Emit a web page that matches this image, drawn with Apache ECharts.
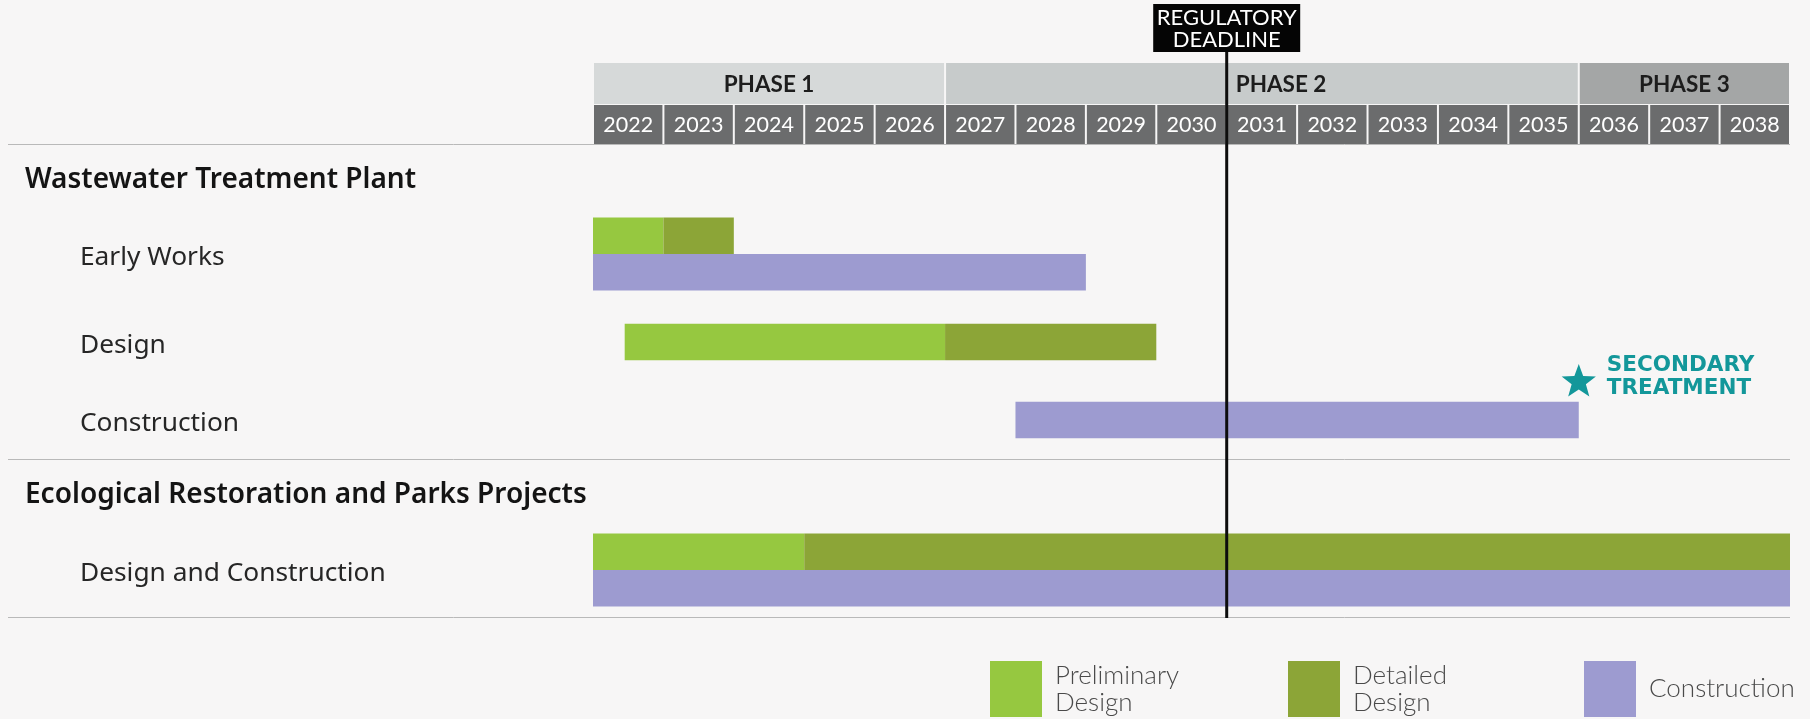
<!DOCTYPE html>
<html><head><meta charset="utf-8">
<script src="https://cdn.jsdelivr.net/npm/echarts@6/dist/echarts.min.js"></script>
<style>html,body{margin:0;padding:0;background:#f7f6f6}#c{width:1810px;height:719px}</style>
</head><body><div id="c"></div><script>
// ---------------- DATA ----------------
const yearLabels = ['2022','2023','2024','2025','2026','2027','2028','2029','2030','2031','2032','2033','2034','2035','2036','2037','2038'];
const phaseNames = ['PHASE 1', 'PHASE 2', 'PHASE 3'];
const phaseStart = [2022, 2027, 2036];
const phaseEnd   = [2027, 2036, 2039];

const rowLabels  = ['Wastewater Treatment Plant', 'Early Works', 'Design', 'Construction',
                    'Ecological Restoration and Parks Projects', 'Design and Construction'];
const rowIsGroup = [true, false, false, false, true, false];

const typeNames  = ['Preliminary Design', 'Detailed Design', 'Construction'];
const legendText = ['Preliminary\nDesign', 'Detailed\nDesign', 'Construction'];

const taskRow   = [1, 1, 1, 2, 2, 3, 5, 5, 5];
const taskType  = ['Preliminary Design', 'Detailed Design', 'Construction',
                   'Preliminary Design', 'Detailed Design', 'Construction',
                   'Preliminary Design', 'Detailed Design', 'Construction'];
const taskStart = [2022, 2023, 2022, 2022.45, 2027, 2028, 2022, 2025, 2022];
const taskEnd   = [2023, 2024, 2029, 2027,    2030, 2036, 2025, 2039, 2039];

const deadlineYear   = 2031;
const deadlineLabel  = 'REGULATORY\nDEADLINE';
const milestoneYear  = 2036;
const milestoneLabel = 'SECONDARY\nTREATMENT';

// ---------------- LAYOUT / STYLE ----------------
const FONT = 'Lato, "Open Sans", sans-serif';
const LABEL_FONT = '"Noto Sans", "Open Sans", sans-serif';
const L = {
  boxTop: 4, boxBottom: 52, boxWidth: 147,
  phaseTop: 63, phaseBottom: 104,
  yearTop: 105, yearBottom: 144,
  rowY: [178, 254, 342, 420, 493, 570],
  rules: [144, 459, 617],
  ruleLeft: 8,
  lineBottom: 618,
  barH: 36.5,
  groupX: 25, taskX: 80,
  groupDy: 2, taskDy: 3.5,
  milestoneY: 380,
  legendX: [990, 1288, 1584], legendTop: 661
};
const typeColor = {'Preliminary Design': '#96c840', 'Detailed Design': '#8ca537', 'Construction': '#9d9bd0'};
const phaseColor = ['#d6d9d9', '#c7cbcb', '#a4a6a6'];
const yearColor = '#6b6c6d';
const teal = '#13979a';

const rowHasDesign = rowLabels.map((_, r) => taskRow.some((tr, i) => tr === r && taskType[i] !== 'Construction'));
const rowHasBuild  = rowLabels.map((_, r) => taskRow.some((tr, i) => tr === r && taskType[i] === 'Construction'));

const chart = echarts.init(document.getElementById('c'), null, {renderer: 'canvas'});

function yPix(api, v) { return api.coord([2022, v])[1]; }

const PHASE_FONT = 22.5;
const headerPhase = {
  type: 'custom', silent: true, z: 2,
  data: phaseNames.map((n, i) => [phaseStart[i], phaseEnd[i], i]),
  encode: {x: [0, 1]},
  renderItem(params, api) {
    const i = api.value(2);
    const p0 = api.coord([api.value(0), 0]), p1 = api.coord([api.value(1), 0]);
    const y0 = yPix(api, L.phaseTop), y1 = yPix(api, L.phaseBottom);
    // keep the phase title clear of the deadline line
    const dx = api.coord([deadlineYear, 0])[0];
    let cx = (p0[0] + p1[0]) / 2;
    const halfW = phaseNames[i].length * PHASE_FONT * 0.3;
    let align = 'center';
    if (dx > cx - halfW - 6 && dx < cx + halfW + 6) { cx = dx + 9; align = 'left'; }
    return {type: 'group', children: [
      {type: 'rect', shape: {x: p0[0] + 1, y: y0, width: p1[0] - p0[0] - 2, height: y1 - y0}, style: {fill: phaseColor[i]}},
      {type: 'text', x: cx, y: (y0 + y1) / 2 + 1,
        style: {text: phaseNames[i], fill: '#1d1d1d', fontSize: PHASE_FONT, fontWeight: 'bold', fontFamily: FONT, align: align, verticalAlign: 'middle'}}
    ]};
  }
};

const headerYears = {
  type: 'custom', silent: true, z: 2,
  data: yearLabels.map((y) => [Number(y), Number(y) + 1]),
  encode: {x: [0, 1]},
  renderItem(params, api) {
    const p0 = api.coord([api.value(0), 0]), p1 = api.coord([api.value(1), 0]);
    const y0 = yPix(api, L.yearTop), y1 = yPix(api, L.yearBottom);
    return {type: 'group', children: [
      {type: 'rect', shape: {x: p0[0] + 1, y: y0, width: p1[0] - p0[0] - 2, height: y1 - y0}, style: {fill: yearColor}},
      {type: 'text', x: (p0[0] + p1[0]) / 2, y: (y0 + y1) / 2 + 1,
        style: {text: yearLabels[params.dataIndex], fill: '#ffffff', fontSize: 21.5, fontFamily: FONT, align: 'center', verticalAlign: 'middle'}}
    ]};
  }
};

const rulesSeries = {
  type: 'custom', silent: true, z: 1,
  data: L.rules.map((r) => [2022, r]),
  encode: {x: 0},
  renderItem(params, api) {
    const cs = params.coordSys;
    const y = Math.round(yPix(api, api.value(1))) + 0.5;
    return {type: 'line', shape: {x1: L.ruleLeft, y1: y, x2: cs.x + cs.width, y2: y}, style: {stroke: '#b9b9b9', lineWidth: 1}};
  }
};

const labelSeries = {
  type: 'custom', silent: true, z: 3,
  data: rowLabels.map((n, i) => [2022, i]),
  encode: {x: 0},
  renderItem(params, api) {
    const i = params.dataIndex;
    const y = yPix(api, L.rowY[i]);
    const g = rowIsGroup[i];
    return {type: 'text', x: g ? L.groupX : L.taskX, y: y + (g ? L.groupDy : L.taskDy),
      style: {text: rowLabels[i], fill: g ? '#141414' : '#262626', fontSize: g ? 28 : 26.3,
        fontWeight: g ? 600 : 'normal', fontFamily: LABEL_FONT, align: 'left', verticalAlign: 'middle'}};
  }
};

function taskSeries(type) {
  const idx = taskType.map((t, i) => t === type ? i : -1).filter(i => i >= 0);
  return {
    type: 'custom', name: type, z: 4,
    itemStyle: {color: typeColor[type]},
    data: idx.map(i => [taskStart[i], taskEnd[i], taskRow[i]]),
    encode: {x: [0, 1]},
    renderItem(params, api) {
      const r = api.value(2);
      const p0 = api.coord([api.value(0), 0]), p1 = api.coord([api.value(1), 0]);
      const c = yPix(api, L.rowY[r]);
      const both = rowHasDesign[r] && rowHasBuild[r];
      let top;
      if (!both) top = c - L.barH / 2;
      else top = (type === 'Construction') ? c : c - L.barH;
      return {type: 'rect', shape: {x: p0[0], y: top, width: p1[0] - p0[0], height: L.barH},
        style: {fill: typeColor[type]}};
    }
  };
}

const deadlineSeries = {
  type: 'custom', silent: true, z: 10,
  data: [[deadlineYear]],
  encode: {x: 0},
  renderItem(params, api) {
    const x = api.coord([api.value(0), 0])[0];
    const yb = yPix(api, L.boxTop), ybb = yPix(api, L.boxBottom), yl = yPix(api, L.lineBottom);
    return {type: 'group', children: [
      {type: 'line', shape: {x1: x, y1: ybb, x2: x, y2: yl}, style: {stroke: '#0d0d0d', lineWidth: 3}},
      {type: 'rect', shape: {x: x - L.boxWidth / 2, y: yb, width: L.boxWidth, height: ybb - yb}, style: {fill: '#050505'}},
      {type: 'text', x: x, y: (yb + ybb) / 2 + 1,
        style: {text: deadlineLabel, fill: '#ffffff', fontSize: 22, lineHeight: 22, fontFamily: FONT, align: 'center', verticalAlign: 'middle'}}
    ]};
  }
};

const milestoneSeries = {
  type: 'custom', silent: true, z: 10,
  data: [[milestoneYear]],
  encode: {x: 0},
  renderItem(params, api) {
    const x = api.coord([api.value(0), 0])[0];
    const y = yPix(api, L.milestoneY);
    const pts = [];
    for (let k = 0; k < 10; k++) {
      const a = -Math.PI / 2 + k * Math.PI / 5;
      const rr = k % 2 === 0 ? 18 : 7.5;
      pts.push([x + rr * Math.cos(a), y + 2 + rr * Math.sin(a)]);
    }
    return {type: 'group', children: [
      {type: 'polygon', shape: {points: pts}, style: {fill: teal}},
      {type: 'text', x: x + 28, y: y - 3,
        style: {text: milestoneLabel, fill: teal, fontSize: 21.5, lineHeight: 23, fontWeight: 'bold', fontFamily: '"DejaVu Sans", sans-serif', align: 'left', verticalAlign: 'middle'}}
    ]};
  }
};

const option = {
  backgroundColor: '#f7f6f6',
  animation: false,
  grid: {left: 593, right: 20, top: 0, bottom: 0},
  xAxis: {type: 'value', min: 2022, max: 2039, show: false},
  yAxis: {type: 'value', min: 0, max: 719, inverse: true, show: false},
  legend: typeNames.map((n, i) => ({
    data: [n], left: L.legendX[i], top: L.legendTop, orient: 'horizontal',
    itemWidth: 52, itemHeight: 56, icon: 'rect', selectedMode: false, padding: 0,
    formatter: () => legendText[i],
    textStyle: {fontSize: 26, lineHeight: 27, color: '#4a4a4a', fontFamily: FONT, fontWeight: 300, padding: [0, 0, 0, 8]}
  })),
  series: [rulesSeries, headerPhase, headerYears, labelSeries,
    ...typeNames.map(taskSeries), deadlineSeries, milestoneSeries]
};
chart.setOption(option);
</script></body></html>
